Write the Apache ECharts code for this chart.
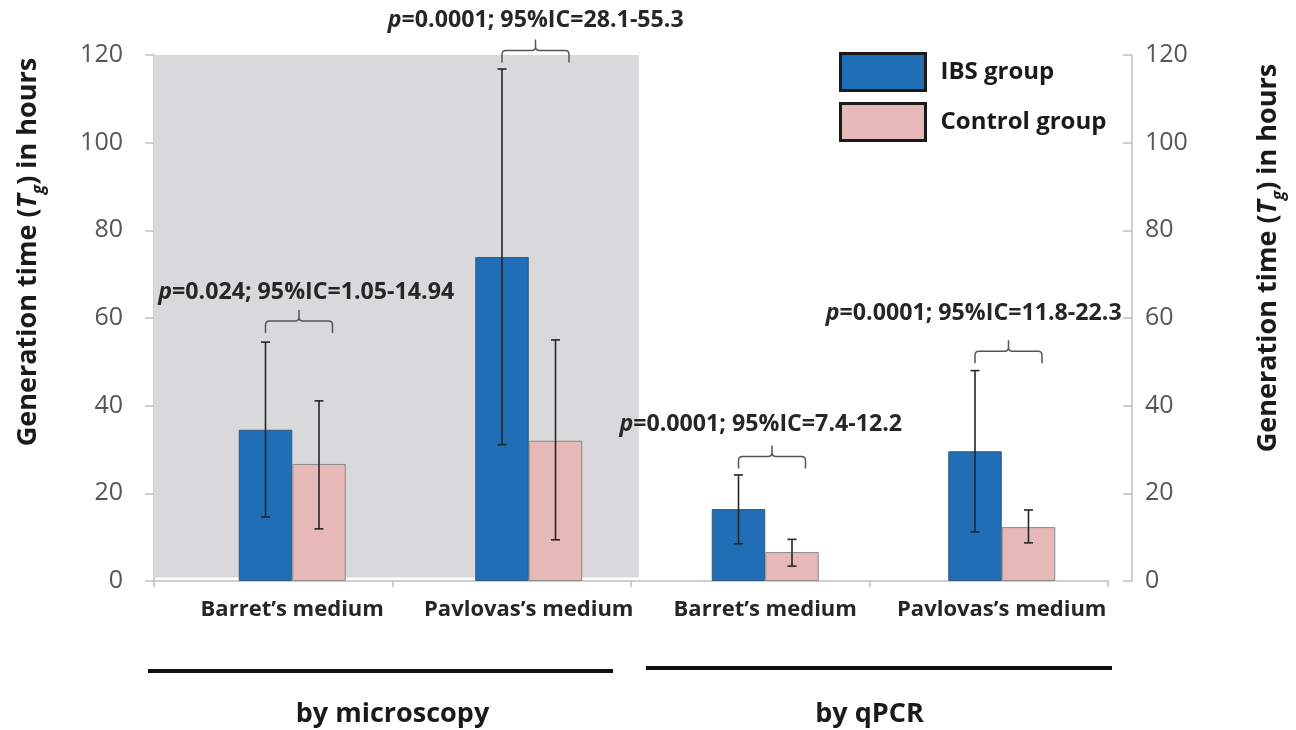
<!DOCTYPE html>
<html>
<head>
<meta charset="utf-8">
<script src="https://cdn.jsdelivr.net/npm/echarts@6/dist/echarts.min.js"></script>
<style>
html,body{margin:0;padding:0;background:#fff;}
#chart{width:1296px;height:730px;}
</style>
</head>
<body>
<div id="chart"></div>
<script>
// ---- data ----
const categories = ['Barret’s medium', 'Pavlovas’s medium', 'Barret’s medium', 'Pavlovas’s medium'];
const methods = ['by microscopy', 'by qPCR'];
const seriesNames = ['IBS group', 'Control group'];
const ibsMean = [34.5, 73.9, 16.4, 29.6];
const ibsLow = [14.6, 31.1, 8.5, 11.2];
const ibsHigh = [54.5, 116.8, 24.2, 48.0];
const ctrlMean = [26.7, 32.0, 6.6, 12.3];
const ctrlLow = [11.9, 9.4, 3.4, 8.7];
const ctrlHigh = [41.1, 55.0, 9.5, 16.2];
const pValues = ['0.024', '0.0001', '0.0001', '0.0001'];
const ciRanges = ['1.05-14.94', '28.1-55.3', '7.4-12.2', '11.8-22.3'];
const braceLevel = [59.3, 121.0, 28.4, 52.4];
const textLevel = [65.9, 128.0, 35.8, 61.1];
const yMin = 0, yMax = 120, yStep = 20;

// ---- styles ----
const FONT = 'Open Sans';
const BLUE = '#1f6eb6';
const PINK = '#e6b8b7';
const BAR_W = 53.5;
const GRID_TOP = 55, GRID_H = 526;
const ANN_FS = 23.2;
const annShift = [14, 7, -4.5];

const errData = [];
for (let i = 0; i < categories.length; i++) {
  errData.push([i, ibsLow[i], ibsHigh[i], 0]);
  errData.push([i, ctrlLow[i], ctrlHigh[i], 1]);
}
const annData = categories.map((c, i) => [i, braceLevel[i], textLevel[i]]);

const chart = echarts.init(document.getElementById('chart'), null, {renderer: 'canvas'});

const titleText = 'Generation time ({i|T}{sub|g}) in hours';
function titleStyle(shiftPad) {
  return {
    fontFamily: FONT, fontWeight: 'bold', fontSize: 27, color: '#1a1a1a', lineHeight: 40,
    padding: [0, 0, 0, shiftPad],
    rich: {
      i: {fontFamily: FONT, fontWeight: 'bold', fontStyle: 'italic', fontSize: 27, color: '#1a1a1a', lineHeight: 40},
      sub: {fontFamily: FONT, fontWeight: 'bold', fontStyle: 'italic', fontSize: 17, color: '#1a1a1a', verticalAlign: 'bottom', lineHeight: 40}
    }
  };
}

const option = {
  backgroundColor: '#fff',
  animation: false,
  grid: [
    {left: 148, top: GRID_TOP, width: 960, height: GRID_H},
    {left: 174, top: GRID_TOP, width: 960, height: GRID_H}
  ],
  legend: {
    data: seriesNames.map(n => ({name: n, itemStyle: {borderColor: '#1a1a1a', borderWidth: 3}})),
    orient: 'vertical', left: 839, top: 52, padding: 0,
    itemWidth: 85, itemHeight: 37, itemGap: 10,
    icon: 'rect',
    textStyle: {fontFamily: FONT, fontWeight: 'bold', fontSize: 24, color: '#1a1a1a', padding: [0, 0, 0, 10]}
  },
  xAxis: [
    {type: 'value', gridIndex: 0, min: 0, max: 4, interval: 1,
     axisLine: {show: true, lineStyle: {color: '#c0c0c0', width: 1.5}},
     axisTick: {show: true, length: 6, lineStyle: {color: '#c0c0c0', width: 1.5}},
     axisLabel: {show: false}, splitLine: {show: false}},
    {type: 'category', gridIndex: 1, data: categories,
     axisLine: {show: false}, axisTick: {show: false},
     axisLabel: {interval: 0, hideOverlap: false, fontFamily: FONT, fontWeight: 'bold', fontSize: 22, color: '#262626', margin: 18}},
    {type: 'category', gridIndex: 0, data: methods, position: 'bottom', offset: 120,
     axisLine: {show: false}, axisTick: {show: false},
     axisLabel: {interval: 0, fontFamily: FONT, fontWeight: 'bold', fontSize: 27, color: '#1a1a1a', margin: 0}}
  ],
  yAxis: [
    {type: 'value', gridIndex: 0, min: yMin, max: yMax, interval: yStep,
     axisLine: {show: true, lineStyle: {color: '#c0c0c0', width: 1.5}},
     axisTick: {show: true, length: 9, lineStyle: {color: '#c0c0c0', width: 1.5}},
     axisLabel: {fontFamily: FONT, fontSize: 25, color: '#555555', margin: 31},
     splitLine: {show: false},
     name: titleText, nameLocation: 'middle', nameRotate: 90, nameGap: 106,
     nameTextStyle: titleStyle(132)},
    {type: 'value', gridIndex: 1, min: yMin, max: yMax, interval: yStep, show: false},
    {type: 'value', gridIndex: 1, min: yMin, max: yMax, interval: yStep, position: 'right', offset: 12,
     axisLine: {show: true, lineStyle: {color: '#c0c0c0', width: 1.5}},
     axisTick: {show: true, inside: true, length: 9, lineStyle: {color: '#c0c0c0', width: 1.5}},
     axisLabel: {fontFamily: FONT, fontSize: 25, color: '#555555', margin: 13},
     splitLine: {show: false},
     name: titleText, nameLocation: 'middle', nameRotate: 90, nameGap: 116,
     nameTextStyle: titleStyle(120)}
  ],
  graphic: [
    {type: 'line', shape: {x1: 148, y1: 671, x2: 613, y2: 671}, style: {stroke: '#111', lineWidth: 4}},
    {type: 'line', shape: {x1: 646, y1: 668, x2: 1112, y2: 668}, style: {stroke: '#111', lineWidth: 4}}
  ],
  series: [
    {type: 'line', xAxisIndex: 0, yAxisIndex: 0, data: [], silent: true, z: 0,
     markArea: {silent: true, itemStyle: {color: '#d9d9db'},
       data: [[{xAxis: 0, yAxis: 0.8}, {xAxis: 2.033, yAxis: yMax}]]}},
    {name: seriesNames[0], type: 'bar', xAxisIndex: 1, yAxisIndex: 1, data: ibsMean,
     barWidth: BAR_W, barGap: '0%', z: 2,
     itemStyle: {color: BLUE, borderColor: '#35577a', borderWidth: 1}},
    {name: seriesNames[1], type: 'bar', xAxisIndex: 1, yAxisIndex: 1, data: ctrlMean,
     barWidth: BAR_W, barGap: '0%', z: 2,
     itemStyle: {color: PINK, borderColor: '#8a8a8a', borderWidth: 1}},
    {type: 'custom', xAxisIndex: 1, yAxisIndex: 1, data: errData, z: 5, silent: true,
     renderItem: function (params, api) {
       const idx = api.value(0), lo = api.value(1), hi = api.value(2), which = api.value(3);
       const off = (which === 0 ? -1 : 1) * BAR_W / 2;
       const p1 = api.coord([idx, lo]), p2 = api.coord([idx, hi]);
       const x = p1[0] + off, cap = 4.5;
       const st = {stroke: '#262626', lineWidth: 1.6};
       return {type: 'group', children: [
         {type: 'line', shape: {x1: x, y1: p1[1], x2: x, y2: p2[1]}, style: st},
         {type: 'line', shape: {x1: x - cap, y1: p1[1], x2: x + cap, y2: p1[1]}, style: st},
         {type: 'line', shape: {x1: x - cap, y1: p2[1], x2: x + cap, y2: p2[1]}, style: st}
       ]};
     }},
    {type: 'custom', xAxisIndex: 1, yAxisIndex: 1, data: annData, z: 6, silent: true,
     renderItem: function (params, api) {
       const i = api.value(0);
       const b = api.coord([i, api.value(1)]);
       const t = api.coord([i, api.value(2)]);
       const x0 = b[0] - BAR_W / 2, x1 = x0 + 67, xm = (x0 + x1) / 2, y = b[1];
       const r = 4, down = 12, up = 11;
       const path = 'M' + x0 + ' ' + (y + down) + ' L' + x0 + ' ' + (y + r) +
         ' Q' + x0 + ' ' + y + ' ' + (x0 + r) + ' ' + y +
         ' L' + (xm - r) + ' ' + y + ' Q' + xm + ' ' + y + ' ' + xm + ' ' + (y - r) +
         ' L' + xm + ' ' + (y - up) +
         ' M' + xm + ' ' + (y - r) + ' Q' + xm + ' ' + y + ' ' + (xm + r) + ' ' + y +
         ' L' + (x1 - r) + ' ' + y + ' Q' + x1 + ' ' + y + ' ' + x1 + ' ' + (y + r) +
         ' L' + x1 + ' ' + (y + down);
       const brace = {type: 'path', shape: {pathData: path},
         style: {stroke: '#555', lineWidth: 1.5, fill: null}};
       const rich = {
         i: {fontFamily: FONT, fontWeight: 'bold', fontStyle: 'italic', fontSize: ANN_FS, fill: '#262626'},
         n: {fontFamily: FONT, fontWeight: 'bold', fontSize: ANN_FS, fill: '#262626'}
       };
       const txt = '{i|p}{n|=' + pValues[i] + '; 95%IC=' + ciRanges[i] + '}';
       const last = i === categories.length - 1;
       const textEl = {type: 'text', x: last ? t[0] - 176 : t[0] + annShift[i], y: t[1],
         style: {text: txt, rich: rich, align: last ? 'left' : 'center', verticalAlign: 'middle',
           fontFamily: FONT, fontWeight: 'bold', fontSize: ANN_FS, fill: '#262626'}};
       return {type: 'group', children: [brace, textEl]};
     }}
  ]
};
chart.setOption(option);
</script>
</body>
</html>
